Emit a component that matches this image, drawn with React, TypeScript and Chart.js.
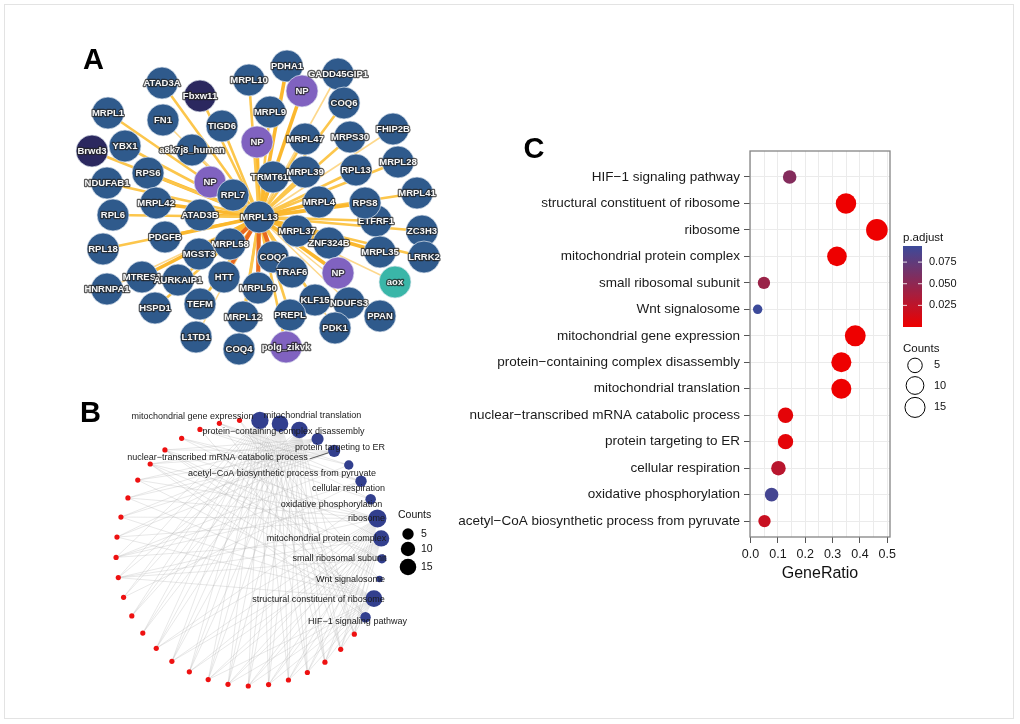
import React, { useEffect, useRef } from "react";
import { Chart, registerables } from "chart.js";

Chart.register(...registerables);

const FONT = "'Liberation Sans', Arial, Helvetica, sans-serif";
Chart.defaults.font.family = FONT;

/* ================= Panel C : dot plot ================= */
const TERMS = [
  "HIF−1 signaling pathway",
  "structural constituent of ribosome",
  "ribosome",
  "mitochondrial protein complex",
  "small ribosomal subunit",
  "Wnt signalosome",
  "mitochondrial gene expression",
  "protein−containing complex disassembly",
  "mitochondrial translation",
  "nuclear−transcribed mRNA catabolic process",
  "protein targeting to ER",
  "cellular respiration",
  "oxidative phosphorylation",
  "acetyl−CoA biosynthetic process from pyruvate",
];
const GENE_RATIO = [0.143, 0.349, 0.462, 0.316, 0.049, 0.026, 0.383, 0.332, 0.332, 0.128, 0.128, 0.102, 0.077, 0.051];
const COUNTS = [4, 16, 19, 14, 3, 2, 17, 15, 15, 6, 6, 5, 4, 3];
const P_ADJUST = [0.056, 2e-7, 1e-9, 3e-6, 0.044, 0.0936, 1e-7, 5e-7, 5e-7, 0.005, 0.005, 0.028, 0.089, 0.02];
const X_GRID = [0, 0.05, 0.1, 0.15, 0.2, 0.25, 0.3, 0.35, 0.4, 0.45, 0.5];
const X_TICK_VALUES = [0, 0.1, 0.2, 0.3, 0.4, 0.5];
const X_TICK_LABELS = ["0.0", "0.1", "0.2", "0.3", "0.4", "0.5"];
const P_BREAKS = [0.025, 0.05, 0.075];
const COUNT_BREAKS = [5, 10, 15];

/* ================= Panel A : interaction network ================= */
const A_NAMES = [
  "ATAD3A", "Fbxw11", "MRPL10", "PDHA1", "NP", "GADD45GIP1", "COQ6", "MRPL1", "FN1", "TIGD6",
  "MRPL9", "NP", "MRPL47", "MRPS30", "FHIP2B", "Brwd3", "YBX1", "a8k7j8_human", "MRPL28", "TRMT61B",
  "MRPL39", "RPL13", "NDUFAB1", "RPS6", "NP", "RPL7", "MRPL4", "ETFRF1", "RPS8", "MRPL41",
  "RPL6", "MRPL42", "ATAD3B", "MRPL13", "PDGFB", "RPL18", "MRPL58", "MGST3", "MRPL37", "ZNF324B",
  "ZC3H3", "MRPL35", "LRRK2", "COQ2", "TRAF6", "NP", "aox", "MTRES1", "AURKAIP1", "HTT",
  "HNRNPA1", "MRPL50", "KLF15", "NDUFS3", "HSPD1", "TEFM", "PREPL", "PPAN", "PDK1", "MRPL12",
  "L1TD1", "COQ4", "polg_zikvk",
];
// node group: h = human protein, v = viral protein, d = hub interactor, a = aox
const A_GROUP = [
  "h", "d", "h", "h", "v", "h", "h", "h", "h", "h",
  "h", "v", "h", "h", "h", "d", "h", "h", "h", "h",
  "h", "h", "h", "h", "v", "h", "h", "h", "h", "h",
  "h", "h", "h", "h", "h", "h", "h", "h", "h", "h",
  "h", "h", "h", "h", "h", "v", "a", "h", "h", "h",
  "h", "h", "h", "h", "h", "h", "h", "h", "h", "h",
  "h", "h", "v",
];
// force-directed layout coordinates
const A_LX = [
  102, 140, 189, 227, 242, 278, 284, 48, 103, 162,
  210, 197, 245, 290, 333, 32, 65, 132, 338, 213,
  245, 296, 47, 88, 150, 173, 259, 316, 305, 357,
  53, 96, 140, 199, 105, 43, 170, 139, 237, 269,
  362, 320, 364, 213, 232, 278, 335, 82, 118, 164,
  47, 198, 255, 289, 95, 140, 230, 320, 275, 183,
  136, 179, 226,
];
const A_LY = [
  53, 66, 50, 36, 61, 44, 73, 83, 90, 96,
  82, 112, 109, 107, 99, 121, 116, 120, 132, 147,
  142, 140, 153, 143, 152, 165, 172, 191, 173, 163,
  185, 173, 185, 187, 207, 219, 214, 224, 201, 213,
  201, 222, 227, 227, 242, 243, 252, 247, 250, 247,
  259, 258, 270, 273, 278, 274, 285, 286, 298, 287,
  307, 319, 317,
];
const A_HUB = "MRPL13";
// interaction weight of each node with the hub (0 = hub itself)
const A_WEIGHT = [
  2, 2, 2, 3, 3, 1, 2, 2, 1, 2,
  2, 3, 2, 2, 1, 2, 2, 2, 2, 3,
  2, 2, 2, 3, 3, 2, 3, 2, 3, 2,
  2, 3, 3, 0, 3, 2, 4, 3, 3, 3,
  2, 3, 2, 4, 2, 3, 1, 3, 2, 4,
  1, 4, 2, 1, 2, 2, 2, 1, 1, 2,
  1, 2, 2,
];

/* ================= Panel B : gene-concept network ================= */
const B_TERMS = [
  "mitochondrial gene expression",
  "mitochondrial translation",
  "protein−containing complex disassembly",
  "protein targeting to ER",
  "nuclear−transcribed mRNA catabolic process",
  "acetyl−CoA biosynthetic process from pyruvate",
  "cellular respiration",
  "oxidative phosphorylation",
  "ribosome",
  "mitochondrial protein complex",
  "small ribosomal subunit",
  "Wnt signalosome",
  "structural constituent of ribosome",
  "HIF−1 signaling pathway",
];
const B_GENES = [
  "MRPL1", "MRPL4", "MRPL9", "MRPL10", "MRPL12", "MRPL13", "MRPL28", "MRPL35", "MRPL37",
  "MRPL39", "MRPL41", "MRPL42", "MRPL47", "MRPL50", "MRPL58", "MRPS30", "NDUFAB1", "RPL6",
  "RPL7", "RPL13", "RPL18", "RPS6", "RPS8", "NDUFS3", "PDHA1", "PDK1", "FBXW11",
];
const MRPL15 = ["MRPL1", "MRPL4", "MRPL9", "MRPL10", "MRPL12", "MRPL13", "MRPL28", "MRPL35", "MRPL37", "MRPL39", "MRPL41", "MRPL42", "MRPL47", "MRPL50", "MRPL58"];
const RP6 = ["RPL6", "RPL7", "RPL13", "RPL18", "RPS6", "RPS8"];
const B_MEMBERS = [
  [...MRPL15, "MRPS30", "NDUFAB1"],
  [...MRPL15],
  ["MRPL1", "MRPL4", "MRPL9", "MRPL10", "MRPL12", "MRPL13", "MRPL28", "MRPL35", "MRPL37", "MRPL39", "MRPL41", "MRPL42", "MRPL47", "MRPL50", "MRPS30"],
  [...RP6],
  [...RP6],
  ["PDHA1", "PDK1", "NDUFAB1"],
  ["NDUFAB1", "NDUFS3", "PDHA1", "PDK1", "MRPL58"],
  ["NDUFAB1", "NDUFS3", "PDK1", "MRPL42"],
  [...RP6, "MRPS30", "MRPL1", "MRPL4", "MRPL9", "MRPL10", "MRPL12", "MRPL13", "MRPL28", "MRPL35", "MRPL37", "MRPL39", "MRPL41", "MRPL42"],
  ["MRPL1", "MRPL4", "MRPL9", "MRPL10", "MRPL12", "MRPL13", "MRPL28", "MRPL35", "MRPL37", "MRPL39", "MRPL41", "MRPS30", "NDUFAB1", "NDUFS3"],
  ["RPS6", "RPS8", "MRPS30"],
  ["FBXW11", "RPS8"],
  [...RP6, "MRPS30", "MRPL1", "MRPL4", "MRPL9", "MRPL10", "MRPL12", "MRPL13", "MRPL28", "MRPL35", "MRPL37"],
  ["PDK1", "PDHA1", "RPS6", "FBXW11"],
];
// label placement (repel result), px offsets from node
const B_LABEL_DX = [-67.4, 32.5, -15.9, 22.4, -116.7, -66.8, -12.5, -39.2, -10.9, -54.7, -42.4, -28.9, -55.4, -8];
const B_LABEL_DY = [-4.4, -7.7, 2.1, 8, 7.1, 8, 7.7, 4.8, -0.4, 0.5, 0.2, 0, 0.4, 3.9];
const B_LEADER = [false, false, false, false, true, false, false, false, false, false, false, false, false, false];

/* ================= helpers ================= */
const LOW = [238, 0, 0];
const HIGH = [60, 74, 154];
const P_MIN = Math.min(...P_ADJUST);
const P_MAX = Math.max(...P_ADJUST);
function mix(t: number) {
  const c = LOW.map((l, i) => Math.round(l + (HIGH[i] - l) * t));
  return `rgb(${c[0]},${c[1]},${c[2]})`;
}
function pColor(p: number) {
  const t = Math.max(0, Math.min(1, (p - P_MIN) / (P_MAX - P_MIN)));
  return mix(t);
}
const C_MIN = Math.min(...COUNTS);
const C_MAX = Math.max(...COUNTS);
function sizeT(c: number) {
  return Math.sqrt(Math.max(0, (c - C_MIN) / (C_MAX - C_MIN)));
}
const rC = (c: number) => 4.7 + 6.1 * sizeT(c);
const rB = (c: number) => 3.3 + 5.7 * sizeT(c);

const A_COLORS: Record<string, string> = { h: "#2f5a8c", v: "#8062c0", d: "#2b285f", a: "#3ab6a8" };
const EDGE_COLOR = ["", "#fdd88c", "#fcc64c", "#fbb82e", "#e8691e"];
const EDGE_WIDTH = [0, 1.6, 2.6, 3.6, 4.2];

const BASE_OPTIONS = {
  animation: false,
  responsive: false,
  devicePixelRatio: 1,
  events: [],
  plugins: { legend: { display: false }, tooltip: { enabled: false } },
};

/* ================= Chart builders ================= */
function makeA(canvas: HTMLCanvasElement) {
  const hubIdx = A_NAMES.indexOf(A_HUB);
  const datasets: any[] = [];
  A_NAMES.forEach((n, i) => {
    if (A_WEIGHT[i] <= 0) return;
    datasets.push({
      data: [{ x: A_LX[i], y: A_LY[i] }, { x: A_LX[hubIdx], y: A_LY[hubIdx] }],
      showLine: true,
      borderColor: EDGE_COLOR[A_WEIGHT[i]],
      borderWidth: EDGE_WIDTH[A_WEIGHT[i]],
      pointRadius: 0,
      order: 1000,
      clip: false,
    });
  });
  const N = A_NAMES.length;
  A_NAMES.forEach((n, i) => {
    datasets.push({
      data: [{ x: A_LX[i], y: A_LY[i] }],
      pointRadius: 16,
      pointBackgroundColor: A_COLORS[A_GROUP[i]],
      pointBorderColor: "rgba(225,232,240,0.9)",
      pointBorderWidth: 0.8,
      order: N - i,
      clip: false,
      nodeLabel: n,
    });
  });
  const labelPlugin = {
    id: "aLabels",
    afterDatasetDraw(chart: any, args: any) {
      const ds = chart.data.datasets[args.index];
      if (!ds.nodeLabel) return;
      const el = args.meta.data[0];
      const ctx = chart.ctx;
      ctx.save();
      ctx.font = `bold 9.5px ${FONT}`;
      ctx.textAlign = "center";
      ctx.textBaseline = "middle";
      ctx.lineJoin = "round";
      ctx.lineWidth = 2.4;
      ctx.strokeStyle = "rgba(35,35,35,0.75)";
      ctx.strokeText(ds.nodeLabel, el.x, el.y);
      ctx.fillStyle = "#f6f6f6";
      ctx.fillText(ds.nodeLabel, el.x, el.y);
      ctx.restore();
    },
    afterDraw(chart: any) {
      const ctx = chart.ctx;
      ctx.save();
      ctx.font = `bold 29px ${FONT}`;
      ctx.fillStyle = "#000";
      ctx.textBaseline = "alphabetic";
      ctx.fillText("A", 23, 39);
      ctx.restore();
    },
  };
  return new Chart(canvas, {
    type: "scatter",
    data: { datasets },
    options: {
      ...BASE_OPTIONS,
      layout: { padding: 0, autoPadding: false },
      scales: {
        x: { type: "linear", display: false, min: 0, max: 400 },
        y: { type: "linear", display: false, min: 0, max: 350, reverse: true },
      },
    } as any,
    plugins: [labelPlugin],
  });
}

const B_W = 400, B_H = 320;
const B_CX = 189, B_CY = 158, B_R = 133; // circle layout frame in canvas px
const B_START_DEG = 85.3;

function makeB(canvas: HTMLCanvasElement) {
  const nAll = B_TERMS.length + B_GENES.length;
  const step = (2 * Math.PI) / nAll;
  const start = (B_START_DEG * Math.PI) / 180;
  const pos = (k: number) => ({ x: Math.cos(start - k * step), y: Math.sin(start - k * step) });
  const catPos = B_TERMS.map((_, k) => pos(k));
  const genePos = B_GENES.map((_, j) => pos(B_TERMS.length + j));
  const catCount = B_TERMS.map((t) => COUNTS[TERMS.indexOf(t)]);
  const datasets: any[] = [
    {
      data: catPos,
      pointRadius: catCount.map(rB),
      pointBackgroundColor: "#323f8e",
      pointBorderWidth: 0,
      order: 1,
      clip: false,
    },
    {
      data: genePos,
      pointRadius: 2.6,
      pointBackgroundColor: "#ee1111",
      pointBorderWidth: 0,
      order: 5,
      clip: false,
    },
  ];
  B_MEMBERS.forEach((genes, k) => {
    genes.forEach((g) => {
      const j = B_GENES.indexOf(g);
      datasets.push({
        data: [catPos[k], genePos[j]],
        showLine: true,
        borderColor: "rgba(175,175,175,0.42)",
        borderWidth: 0.7,
        pointRadius: 0,
        order: 10,
        clip: false,
      });
    });
  });
  const deco = {
    id: "bDeco",
    afterDraw(chart: any) {
      const ctx = chart.ctx;
      const meta = chart.getDatasetMeta(0);
      ctx.save();
      ctx.font = `9px ${FONT}`;
      ctx.fillStyle = "#1a1a1a";
      ctx.textAlign = "center";
      ctx.textBaseline = "middle";
      B_TERMS.forEach((t, k) => {
        const el = meta.data[k];
        const tx = el.x + B_LABEL_DX[k];
        const ty = el.y + B_LABEL_DY[k];
        ctx.fillText(t, tx, ty);
        if (B_LEADER[k]) {
          const w = ctx.measureText(t).width;
          const x0 = tx + w / 2 + 2, y0 = ty + 1;
          const dx = el.x - x0, dy = el.y - y0;
          const d = Math.hypot(dx, dy);
          const r = rB(catCount[k]);
          ctx.strokeStyle = "#333";
          ctx.lineWidth = 0.8;
          ctx.beginPath();
          ctx.moveTo(x0, y0);
          ctx.lineTo(el.x - (dx / d) * r, el.y - (dy / d) * r);
          ctx.stroke();
        }
      });
      // size legend
      ctx.textAlign = "left";
      ctx.font = `10.5px ${FONT}`;
      ctx.fillStyle = "#111";
      ctx.fillText("Counts", 338, 120);
      const ly = [139, 154, 172];
      COUNT_BREAKS.forEach((c, i) => {
        ctx.beginPath();
        ctx.arc(348, ly[i], rB(c), 0, Math.PI * 2);
        ctx.fillStyle = "#000";
        ctx.fill();
        ctx.fillStyle = "#111";
        ctx.fillText(String(c), 361, ly[i]);
      });
      ctx.font = `bold 29px ${FONT}`;
      ctx.fillStyle = "#000";
      ctx.textBaseline = "alphabetic";
      ctx.fillText("B", 20, 26.5);
      ctx.restore();
    },
  };
  return new Chart(canvas, {
    type: "scatter",
    data: { datasets },
    options: {
      ...BASE_OPTIONS,
      layout: { padding: 0, autoPadding: false },
      scales: {
        x: { type: "linear", display: false, min: -B_CX / B_R, max: (B_W - B_CX) / B_R },
        y: { type: "linear", display: false, min: -(B_H - B_CY) / B_R, max: B_CY / B_R },
      },
    } as any,
    plugins: [deco],
  });
}

function makeC(canvas: HTMLCanvasElement) {
  const isMajor = (v: number) => X_TICK_VALUES.some((t) => Math.abs(t - v) < 1e-9);
  const deco = {
    id: "cDeco",
    afterDraw(chart: any) {
      const { ctx, chartArea: ca } = chart;
      ctx.save();
      ctx.strokeStyle = "#858585";
      ctx.lineWidth = 1.3;
      ctx.strokeRect(ca.left, ca.top, ca.right - ca.left, ca.bottom - ca.top);
      // axis title
      ctx.fillStyle = "#111";
      ctx.font = `16px ${FONT}`;
      ctx.textAlign = "center";
      ctx.textBaseline = "middle";
      ctx.fillText("GeneRatio", (ca.left + ca.right) / 2, 474);
      // colour bar
      const bx = 463, by = 146, bw = 19, bh = 81;
      const g = ctx.createLinearGradient(0, by + bh, 0, by);
      for (let s = 0; s <= 20; s++) g.addColorStop(s / 20, mix(s / 20));
      ctx.fillStyle = g;
      ctx.fillRect(bx, by, bw, bh);
      ctx.font = `11.5px ${FONT}`;
      ctx.textAlign = "left";
      ctx.fillStyle = "#111";
      ctx.fillText("p.adjust", bx, by - 8.5);
      ctx.font = `11px ${FONT}`;
      P_BREAKS.forEach((p) => {
        const y = by + bh - ((p - P_MIN) / (P_MAX - P_MIN)) * bh;
        ctx.strokeStyle = "rgba(255,255,255,0.85)";
        ctx.lineWidth = 1;
        ctx.beginPath();
        ctx.moveTo(bx, y); ctx.lineTo(bx + 4, y);
        ctx.moveTo(bx + bw - 4, y); ctx.lineTo(bx + bw, y);
        ctx.stroke();
        ctx.fillStyle = "#111";
        ctx.fillText(p.toFixed(3), bx + bw + 7, y);
      });
      // size legend
      ctx.font = `11.5px ${FONT}`;
      ctx.fillText("Counts", bx, 248.5);
      const ly = [265.4, 285.5, 307.4];
      ctx.font = `11px ${FONT}`;
      COUNT_BREAKS.forEach((c, i) => {
        ctx.beginPath();
        ctx.arc(bx + 12, ly[i], rC(c), 0, Math.PI * 2);
        ctx.fillStyle = "#fff";
        ctx.fill();
        ctx.strokeStyle = "#000";
        ctx.lineWidth = 1;
        ctx.stroke();
        ctx.fillStyle = "#111";
        ctx.fillText(String(c), bx + 31, ly[i]);
      });
      ctx.font = `bold 29px ${FONT}`;
      ctx.fillStyle = "#000";
      ctx.textBaseline = "alphabetic";
      ctx.fillText("C", 83.5, 58.3);
      ctx.restore();
    },
  };
  return new Chart(canvas, {
    type: "scatter",
    data: {
      datasets: [
        {
          data: TERMS.map((_, i) => ({ x: GENE_RATIO[i], y: i })),
          pointRadius: COUNTS.map(rC),
          pointBackgroundColor: P_ADJUST.map(pColor),
          pointBorderWidth: 0,
          clip: false,
        },
      ],
    },
    options: {
      ...BASE_OPTIONS,
      layout: { padding: { left: 0, top: 51, right: 130, bottom: 0 }, autoPadding: false },
      scales: {
        x: {
          type: "linear",
          min: -0.002,
          max: 0.51,
          afterBuildTicks: (s: any) => {
            s.ticks = X_GRID.map((v) => ({ value: v }));
          },
          afterFit: (s: any) => {
            s.height = 83;
          },
          ticks: {
            autoSkip: false,
            maxRotation: 0,
            padding: 4,
            color: "#1a1a1a",
            font: { size: 12.5 },
            callback: (v: number) => {
              const i = X_TICK_VALUES.findIndex((t) => Math.abs(t - v) < 1e-9);
              return i >= 0 ? X_TICK_LABELS[i] : "";
            },
          },
          grid: {
            color: "#ebebeb",
            lineWidth: 1,
            tickLength: 6,
            tickColor: (c: any) => (c.tick && isMajor(c.tick.value) ? "#555" : "rgba(0,0,0,0)"),
          },
          border: { display: false },
        },
        y: {
          type: "linear",
          reverse: true,
          min: -0.98,
          max: TERMS.length - 0.4,
          afterBuildTicks: (s: any) => {
            s.ticks = TERMS.map((_, i) => ({ value: i }));
          },
          afterFit: (s: any) => {
            s.width = 310;
          },
          ticks: {
            autoSkip: false,
            padding: 4,
            color: "#1a1a1a",
            font: { size: 13.5 },
            callback: (v: number) => TERMS[v] ?? "",
          },
          grid: { color: "#ebebeb", lineWidth: 1, tickLength: 6, tickColor: "#555" },
          border: { display: false },
        },
      },
    } as any,
    plugins: [deco],
  });
}

export default function App() {
  const aRef = useRef<HTMLCanvasElement>(null);
  const bRef = useRef<HTMLCanvasElement>(null);
  const cRef = useRef<HTMLCanvasElement>(null);
  useEffect(() => {
    const charts = [makeA(aRef.current!), makeB(bRef.current!), makeC(cRef.current!)];
    return () => charts.forEach((c) => c.destroy());
  }, []);
  const abs = (l: number, t: number, w: number, h: number): React.CSSProperties => ({
    position: "absolute", left: l, top: t, width: w, height: h,
  });
  return (
    <div style={{ position: "absolute", left: 0, top: 0, width: 1020, height: 724, background: "#fff", overflow: "hidden" }}>
      <div style={{ ...abs(4, 4, 1010, 715), border: "1px solid #e3e3e3", boxSizing: "border-box" }} />
      <canvas ref={aRef} width={400} height={350} style={abs(60, 30, 400, 350)} />
      <canvas ref={bRef} width={B_W} height={B_H} style={abs(60, 395, B_W, B_H)} />
      <canvas ref={cRef} width={580} height={520} style={abs(440, 100, 580, 520)} />
    </div>
  );
}
